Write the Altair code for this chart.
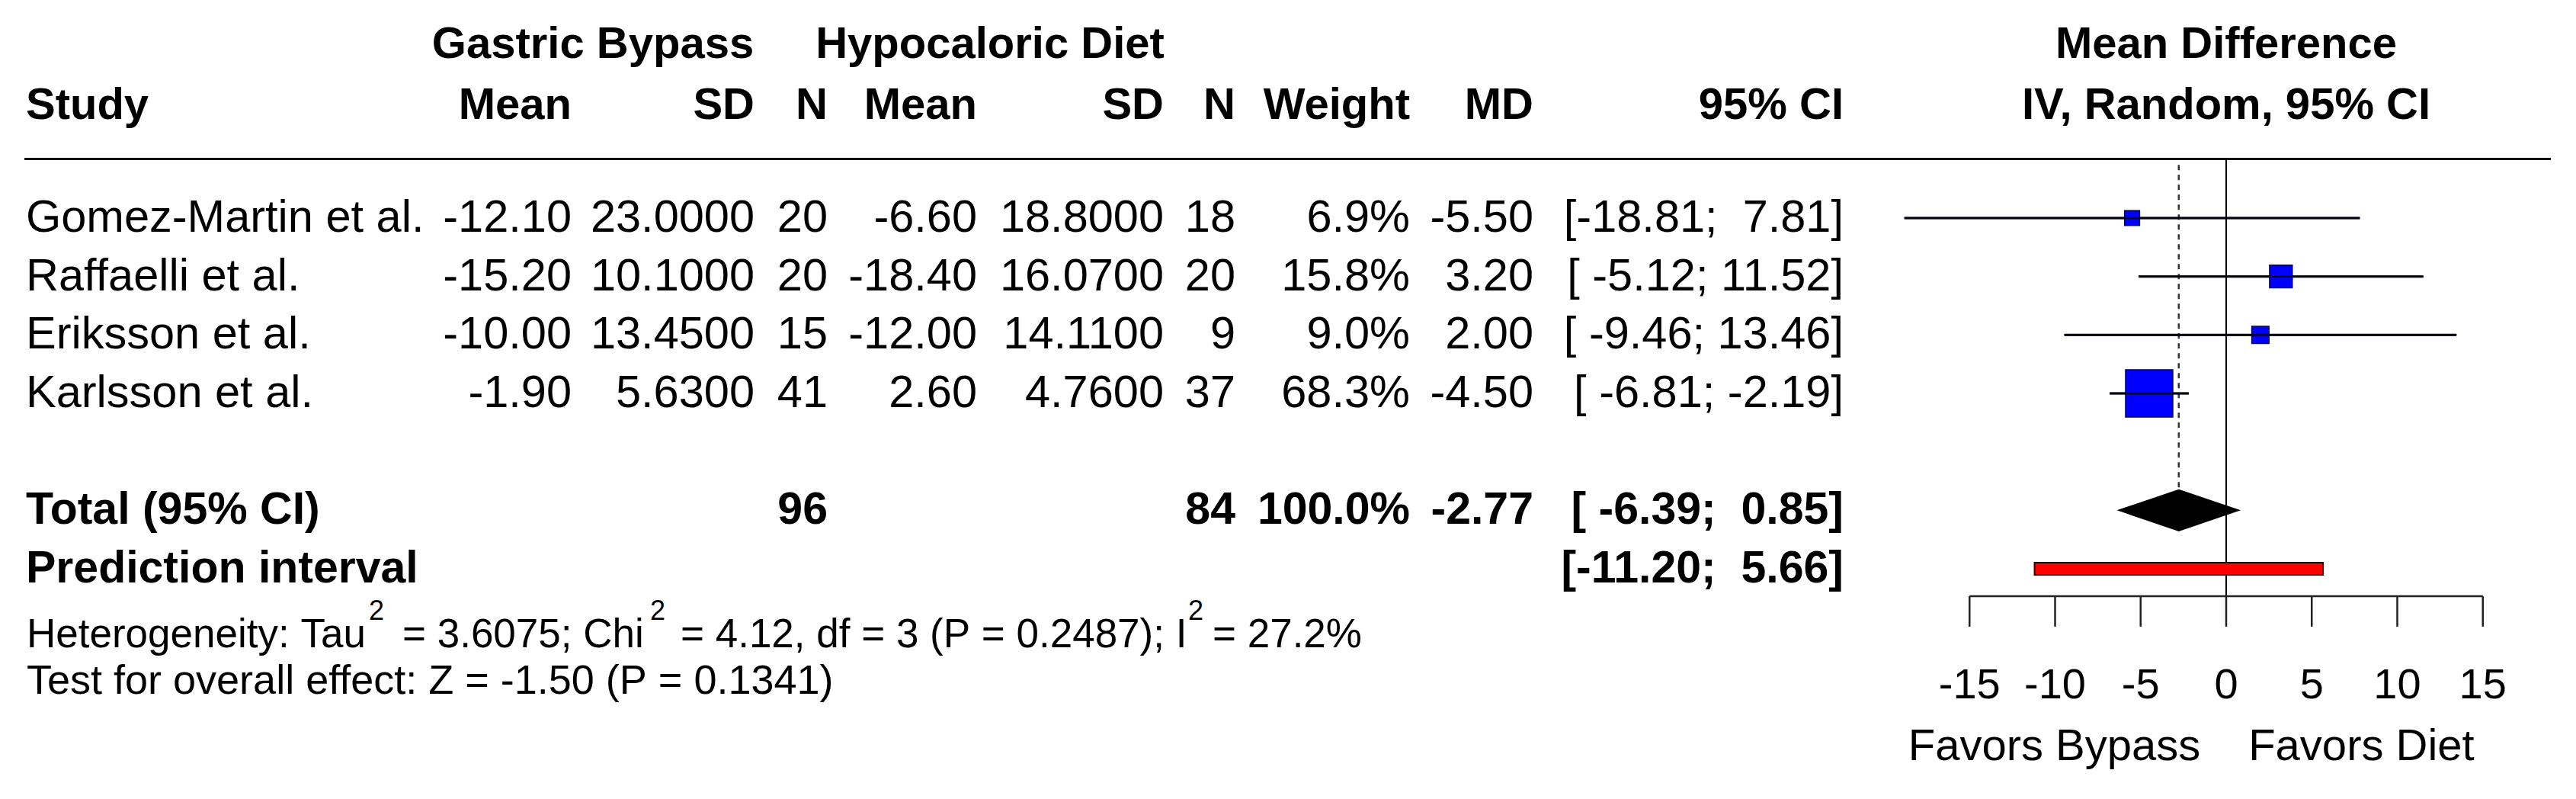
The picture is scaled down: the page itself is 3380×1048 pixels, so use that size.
import altair as alt
import pandas as pd

# ---------------- data ----------------
studies = ["Gomez-Martin et al.", "Raffaelli et al.", "Eriksson et al.", "Karlsson et al."]
bypass_mean = [-12.10, -15.20, -10.00, -1.90]
bypass_sd = [23.0000, 10.1000, 13.4500, 5.6300]
bypass_n = [20, 20, 15, 41]
diet_mean = [-6.60, -18.40, -12.00, 2.60]
diet_sd = [18.8000, 16.0700, 14.1100, 4.7600]
diet_n = [18, 20, 9, 37]
weights = [6.9, 15.8, 9.0, 68.3]
md = [-5.50, 3.20, 2.00, -4.50]
ci_low = [-18.81, -5.12, -9.46, -6.81]
ci_high = [7.81, 11.52, 13.46, -2.19]

total_label = "Total (95% CI)"
total_n_bypass = 96
total_n_diet = 84
total_weight = 100.0
total_md = -2.77
total_low = -6.39
total_high = 0.85

pi_label = "Prediction interval"
pi_low = -11.20
pi_high = 5.66

axis_ticks = [-15, -10, -5, 0, 5, 10, 15]
favors_left = "Favors Bypass"
favors_right = "Favors Diet"
hetero_parts = ["Heterogeneity: Tau", "2", "= 3.6075; Chi", "2",
                "= 4.12, df = 3 (P = 0.2487); I", "2", "= 27.2%"]
overall_text = "Test for overall effect: Z = -1.50 (P = 0.1341)"

header_groups = ["Gastric Bypass", "Hypocaloric Diet"]
header_cols = ["Study", "Mean", "SD", "N", "Mean", "SD", "N", "Weight", "MD", "95% CI"]
plot_title = ["Mean Difference", "IV, Random, 95% CI"]

# ---------------- layout ----------------
FONT = "Liberation Sans, Arial, sans-serif"
W, H = 3364, 1024
PX_PER_UNIT = 22.45
ZERO_PX = 2921 - 8
ROW0_PX = 286 - 8
ROW_PX = 76.67
BODY = 59.5
BOLD = 59

xs = alt.Scale(domain=[-ZERO_PX / PX_PER_UNIT, (W - ZERO_PX) / PX_PER_UNIT], nice=False, zero=False)
ys = alt.Scale(domain=[-ROW0_PX / ROW_PX, (H - ROW0_PX) / ROW_PX], nice=False, zero=False, reverse=True)


def X(f):
    return alt.X(f, type="quantitative", scale=xs, axis=None)


def Y(f):
    return alt.Y(f, type="quantitative", scale=ys, axis=None)


NB = "\u00a0"


def fmt(v, spec):
    return format(v, spec)


# CI strings formatted jointly like R meta
all_lo = ci_low + [total_low, pi_low]
all_hi = ci_high + [total_high, pi_high]
lo_s = [f"{v:.2f}" for v in all_lo]
hi_s = [f"{v:.2f}" for v in all_hi]
wl = max(len(s) for s in lo_s)
wh = max(len(s) for s in hi_s)
ci_s = [f"[{l:>{wl}}; {h:>{wh}}]".replace(" ", NB) for l, h in zip(lo_s, hi_s)]

ROW_TOTAL = 5
ROW_PI = 6
HEAD1 = -2.96
HEAD2 = -1.917
LINE_ROW = -1.01
AXIS_ROW = 6.47
TICK_END = 6.99
TICKLAB_ROW = 8.0
FAVORS_ROW = 9.05
HET_ROW = 7.134
SUP_ROW = 6.73
OVR_ROW = 7.93
DIAM_H = 0.359
PI_H = 0.104

rows = list(range(len(studies)))
sdf = pd.DataFrame({
    "row": rows,
    "study": studies,
    "m1": [fmt(v, ".2f") for v in bypass_mean],
    "s1": [fmt(v, ".4f") for v in bypass_sd],
    "n1": [str(v) for v in bypass_n],
    "m2": [fmt(v, ".2f") for v in diet_mean],
    "s2": [fmt(v, ".4f") for v in diet_sd],
    "n2": [str(v) for v in diet_n],
    "w": [fmt(v, ".1f") + "%" for v in weights],
    "md": md,
    "mds": [fmt(v, ".2f") for v in md],
    "ci": ci_s[:len(studies)],
    "lo": ci_low,
    "hi": ci_high,
    "sz": [v * 56.25 for v in weights],
})

layers = []


def text_layer(df, field, px, align="right", bold=False, size=BODY, row="row"):
    return alt.Chart(df).mark_text(
        align=align, baseline="middle", font=FONT, fontSize=size,
        fontWeight="bold" if bold else "normal", color="black"
    ).encode(x=alt.value(px), y=Y(row), text=alt.Text(field, type="nominal"))


def label(txt, px, row, align="right", bold=False, size=BODY):
    df = pd.DataFrame({"row": [row], "t": [txt]})
    return text_layer(df, "t", px, align=align, bold=bold, size=size)


def label_x(txt, xval, row, align="center", bold=False, size=58):
    df = pd.DataFrame({"row": [row], "x": [xval], "t": [txt]})
    return alt.Chart(df).mark_text(
        align=align, baseline="middle", font=FONT, fontSize=size,
        fontWeight="bold" if bold else "normal", color="black"
    ).encode(x=X("x"), y=Y("row"), text=alt.Text("t", type="nominal"))


COLS = {"study": 26, "m1": 742, "s1": 982, "n1": 1078, "m2": 1274, "s2": 1519,
        "n2": 1613, "w": 1842, "mds": 2004, "ci": 2411}

# header
layers.append(label(header_groups[0], 770, HEAD1, align="center", bold=True, size=58))
layers.append(label(header_groups[1], 1291, HEAD1, align="center", bold=True, size=58))
layers.append(label_x(plot_title[0], 0, HEAD1, bold=True))
layers.append(label_x(plot_title[1], 0, HEAD2, bold=True))
for name, key in zip(header_cols, ["study", "m1", "s1", "n1", "m2", "s2", "n2", "w", "mds", "ci"]):
    layers.append(label(name, COLS[key], HEAD2, align="left" if key == "study" else "right", bold=True, size=58))

# header separator line
layers.append(alt.Chart(pd.DataFrame({"row": [LINE_ROW]})).mark_rule(color="#111111", strokeWidth=3).encode(
    x=alt.value(24), x2=alt.value(3339), y=Y("row")))

# study rows
for key in ["study", "m1", "s1", "n1", "m2", "s2", "n2", "w", "mds", "ci"]:
    layers.append(text_layer(sdf, key, COLS[key], align="left" if key == "study" else "right"))

# total row
layers.append(label(total_label, COLS["study"], ROW_TOTAL, align="left", bold=True, size=BOLD))
layers.append(label(str(total_n_bypass), COLS["n1"], ROW_TOTAL, bold=True, size=BOLD))
layers.append(label(str(total_n_diet), COLS["n2"], ROW_TOTAL, bold=True, size=BOLD))
layers.append(label(fmt(total_weight, ".1f") + "%", COLS["w"], ROW_TOTAL, bold=True, size=BOLD))
layers.append(label(fmt(total_md, ".2f"), COLS["mds"], ROW_TOTAL, bold=True, size=BOLD))
layers.append(label(ci_s[len(studies)], COLS["ci"], ROW_TOTAL, bold=True, size=BOLD))
# prediction row
layers.append(label(pi_label, COLS["study"], ROW_PI, align="left", bold=True, size=BOLD))
layers.append(label(ci_s[len(studies) + 1], COLS["ci"], ROW_PI, bold=True, size=BOLD))

# heterogeneity line (with superscripts)
het_px = [27, 476, 520, 845, 885, 1551, 1583]
for part, px in zip(hetero_parts, het_px):
    if part == "2":
        layers.append(label(part, px, SUP_ROW, align="left", size=36))
    else:
        layers.append(label(part.replace(" ", NB), px, HET_ROW, align="left", size=53))
layers.append(label(overall_text.replace(" ", NB), 27, OVR_ROW, align="left", size=54))

# zero line
layers.append(alt.Chart(pd.DataFrame({"x": [0], "y": [LINE_ROW], "y2": [AXIS_ROW]})).mark_rule(
    color="black", strokeWidth=2).encode(x=X("x"), y=Y("y"), y2="y2"))
# dashed overall-effect line
layers.append(alt.Chart(pd.DataFrame({"x": [total_md], "y": [-0.91], "y2": [ROW_TOTAL - DIAM_H]})).mark_rule(
    color="#333333", strokeWidth=2.5, strokeDash=[7, 6]).encode(x=X("x"), y=Y("y"), y2="y2"))

# CI lines
layers.append(alt.Chart(sdf).mark_rule(color="black", strokeWidth=3).encode(x=X("lo"), x2="hi", y=Y("row")))
# squares
layers.append(alt.Chart(sdf).mark_square(filled=True, fill="#0000FF", stroke="#000060", strokeWidth=1.5,
                                         opacity=1).encode(
    x=X("md"), y=Y("row"), size=alt.Size("sz:Q", scale=None)))
layers.append(alt.Chart(sdf).mark_rule(color="#000010", strokeWidth=2.5).encode(x=X("lo"), x2="hi", y=Y("row")))

# diamond
ddf = pd.DataFrame({"x": [total_low, total_md, total_high],
                    "y": [ROW_TOTAL, ROW_TOTAL - DIAM_H, ROW_TOTAL],
                    "y2": [ROW_TOTAL, ROW_TOTAL + DIAM_H, ROW_TOTAL]})
layers.append(alt.Chart(ddf).mark_area(color="black", opacity=1).encode(x=X("x"), y=Y("y"), y2="y2"))

# prediction interval bar
layers.append(alt.Chart(pd.DataFrame({"x": [pi_low], "x2": [pi_high], "y": [ROW_PI - PI_H],
                                      "y2": [ROW_PI + PI_H]})).mark_rect(
    fill="#FF0000", stroke="#300000", strokeWidth=2).encode(x=X("x"), x2="x2", y=Y("y"), y2="y2"))

# axis
layers.append(alt.Chart(pd.DataFrame({"x": [min(axis_ticks)], "x2": [max(axis_ticks)], "y": [AXIS_ROW]})).mark_rule(
    color="#222222", strokeWidth=2.5).encode(x=X("x"), x2="x2", y=Y("y")))
tdf = pd.DataFrame({"x": axis_ticks, "y": [AXIS_ROW] * len(axis_ticks), "y2": [TICK_END] * len(axis_ticks),
                    "yl": [TICKLAB_ROW] * len(axis_ticks), "t": [str(t) for t in axis_ticks]})
layers.append(alt.Chart(tdf).mark_rule(color="#222222", strokeWidth=2.5).encode(x=X("x"), y=Y("y"), y2="y2"))
layers.append(alt.Chart(tdf).mark_text(align="center", baseline="middle", font=FONT, fontSize=56,
                                       color="black").encode(x=X("x"), y=Y("yl"),
                                                             text=alt.Text("t", type="nominal")))
layers.append(label_x(favors_left, -1.5, FAVORS_ROW, align="right"))
layers.append(label_x(favors_right, 1.3, FAVORS_ROW, align="left"))

chart = alt.layer(*layers).properties(width=W, height=H, padding=0, background="white").configure_view(
    stroke=None)

chart.save("out.html", embed_options={"renderer": "svg", "actions": False})
